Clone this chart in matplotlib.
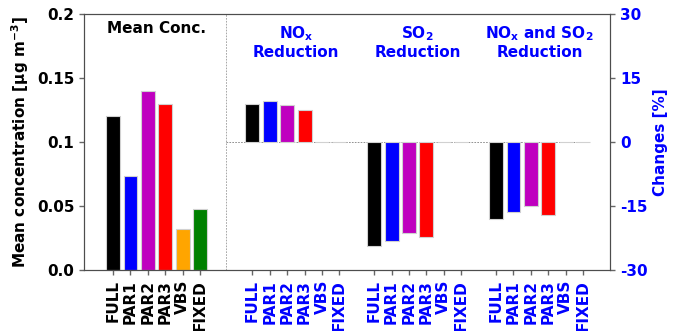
import matplotlib
matplotlib.use("Agg")
import matplotlib.pyplot as plt
import numpy as np

plt.rcParams['font.family'] = ['DejaVu Sans']
plt.rcParams['font.weight'] = 'bold'
plt.rcParams['mathtext.default'] = 'bf'

schemes = ["FULL", "PAR1", "PAR2", "PAR3", "VBS", "FIXED"]
colors = ["black", "blue", "m", "red", "orange", "green"]

mean_conc = [0.120, 0.0735, 0.140, 0.1295, 0.032, 0.048]
nox_change = [8.8, 9.5, 8.6, 7.4, 0.1, 0.0]
so2_change = [-24.4, -23.2, -21.2, -22.3, 0.1, 0.0]
both_change = [-18.1, -16.3, -15.1, -17.2, 0.1, 0.0]

group_starts = [0, 8, 15, 22]
group_titles = ["Mean Conc.", "NO$_\\mathbf{x}$\nReduction", "SO$_\\mathbf{2}$\nReduction",
                "NO$_\\mathbf{x}$ and SO$_\\mathbf{2}$\nReduction"]

fig = plt.figure(figsize=(6.8, 3.31), dpi=100)
ax = fig.add_axes([0.1235, 0.184, 0.774, 0.774])
ax2 = ax.twinx()

n = len(schemes)
edge = dict(edgecolor="0.82", linewidth=0.8, width=0.8)

x0 = np.arange(n) + group_starts[0]
ax.bar(x0, mean_conc, color=colors, **edge)

for start, vals in zip(group_starts[1:], [nox_change, so2_change, both_change]):
    xs = np.arange(n) + start
    ax2.bar(xs, vals, color=colors, **edge)

ax.set_xlim(-1.67, 28.56)
ax.set_ylim(0, 0.2)
ax2.set_ylim(-30, 30)

ax.axvline(6.5, color="0.6", lw=0.6, ls=(0, (2, 1.5)))
ax2.plot([6.5, 27.2], [0, 0], color="0.5", lw=0.6, ls=(0, (2, 1.5)), zorder=0.5)

all_x = np.concatenate([np.arange(n) + s for s in group_starts])
ax.set_xticks(all_x)
ax.set_xticklabels(schemes * 4, rotation=90, fontsize=11, fontweight="bold")
for i, lab in enumerate(ax.get_xticklabels()):
    lab.set_color("black" if i < n else "blue")

ax.set_yticks([0.0, 0.05, 0.1, 0.15, 0.2])
ax.set_yticklabels(["0.0", "0.05", "0.1", "0.15", "0.2"], fontsize=11, fontweight="bold")
ax2.set_yticks([-30, -15, 0, 15, 30])
ax2.set_yticklabels(["-30", "-15", "0", "15", "30"], fontsize=11, fontweight="bold", color="blue")

ax.set_ylabel("Mean concentration [$\\mathbf{\\mu}$g m$^{\\mathbf{-3}}$]", fontsize=11,
              fontweight="bold")
ax2.set_ylabel("Changes [%]", fontsize=11, fontweight="bold", color="blue")

for a in (ax, ax2):
    for sp in a.spines.values():
        sp.set_color("0.3")
    a.tick_params(color="0.4", width=1)

title_x = [2.5, 10.5, 17.5, 24.5]
title_y = [0.1945, 0.1915, 0.1915, 0.1915]
for i, (tx, ty, tt) in enumerate(zip(title_x, title_y, group_titles)):
    ax.text(tx, ty, tt, ha="center", va="top", fontsize=11, fontweight="bold",
            color="black" if i == 0 else "blue", linespacing=1.1)

fig.savefig("out.png", dpi=100)
